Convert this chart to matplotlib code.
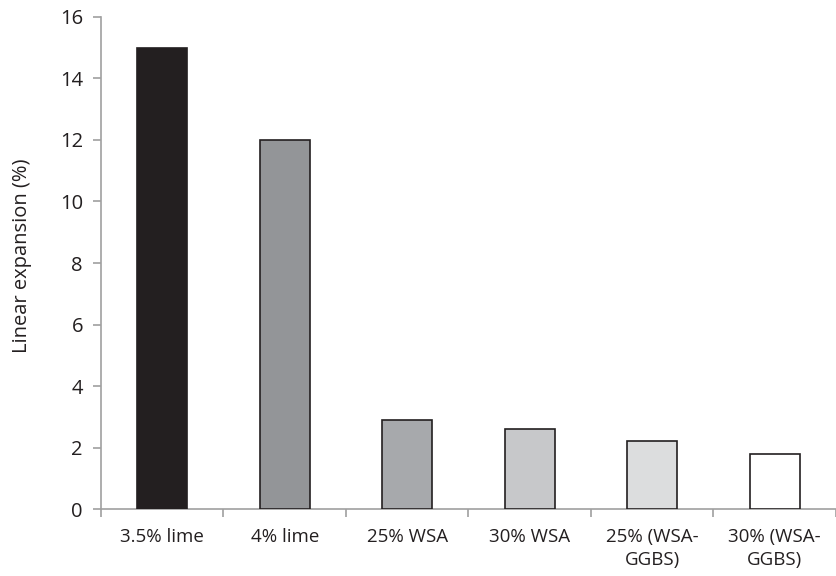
import numpy as np
import matplotlib.pyplot as plt
from matplotlib.ticker import FixedLocator

# data
categories = ["3.5% lime", "4% lime", "25% WSA", "30% WSA", "25% (WSA-\nGGBS)", "30% (WSA-\nGGBS)"]
expansion = [15.0, 12.0, 2.9, 2.6, 2.2, 1.8]
bar_colors = ["#231f20", "#939598", "#a7a9ac", "#c7c8ca", "#dcddde", "#ffffff"]
y_ticks = [0, 2, 4, 6, 8, 10, 12, 14, 16]


def main():
    plt.rcParams['font.family'] = ['Open Sans', 'DejaVu Sans']
    text_color = "#231f20"
    axis_color = "#a0a0a0"

    fig = plt.figure(figsize=(8.36, 5.76), dpi=100)
    ax = fig.add_axes([0.1208, 0.1163, 0.8792, 0.8542])

    x = np.arange(len(categories))
    ax.bar(x, expansion, width=0.41, color=bar_colors, edgecolor=text_color, linewidth=1.2, zorder=3)

    ax.set_xlim(-0.5, len(categories) - 0.5)
    ax.set_ylim(0, 16)
    ax.set_yticks(y_ticks)
    ax.set_xticks(x)
    ax.set_xticklabels(categories, fontsize=13.5, color=text_color, linespacing=1.3)
    ax.xaxis.set_minor_locator(FixedLocator(np.arange(-0.5, len(categories), 1.0)))
    ax.tick_params(axis='x', which='major', length=0, pad=14)
    ax.tick_params(axis='x', which='minor', length=6, color=axis_color, width=1.2)
    ax.tick_params(axis='y', length=6, color=axis_color, width=1.2, labelsize=14.5,
                   labelcolor=text_color, pad=7)

    for side in ["top", "right"]:
        ax.spines[side].set_visible(False)
    for side in ["left", "bottom"]:
        ax.spines[side].set_color(axis_color)
        ax.spines[side].set_linewidth(1.2)

    ax.set_ylabel("Linear expansion (%)", fontsize=14.5, color=text_color)
    ax.yaxis.set_label_coords(-0.094, 0.515)

    fig.savefig("out.png", dpi=100)


if __name__ == "__main__":
    main()
